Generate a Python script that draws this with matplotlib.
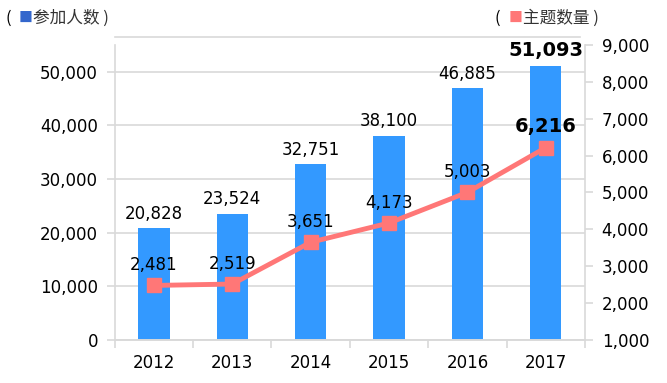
import numpy as np
import matplotlib.pyplot as plt
from matplotlib.lines import Line2D

plt.rcParams['font.family'] = ['DejaVu Sans', 'Noto Sans CJK SC']

years = ['2012', '2013', '2014', '2015', '2016', '2017']
participants = [20828, 23524, 32751, 38100, 46885, 51093]
topics = [2481, 2519, 3651, 4173, 5003, 6216]

bar_color = '#3399FF'
line_color = '#FF7777'
grid_color = '#D9D9D9'

fig = plt.figure(figsize=(6.67, 3.83), dpi=100)
ax = fig.add_axes([0.172, 0.112, 0.705, 0.771])
ax2 = ax.twinx()

x = np.arange(len(years))
ax.bar(x, participants, width=0.4, color=bar_color, zorder=2)
ax.set_xlim(-0.5, len(years) - 0.5)
ax.set_ylim(0, 55000)
ax.set_yticks(np.arange(0, 50001, 10000))
ax.set_yticklabels([f'{v:,}' for v in range(0, 50001, 10000)])
ax.yaxis.grid(True, color=grid_color, lw=1.2, zorder=0)
ax.set_axisbelow(True)
ax.set_xticks(x)
ax.set_xticklabels(years)
ax.set_xticks(np.arange(-0.5, len(years)), minor=True)
ax.tick_params(axis='x', which='major', length=0, pad=10, labelsize=12)
ax.tick_params(axis='x', which='minor', length=6, color=grid_color, width=1.2)
ax.tick_params(axis='y', length=6, color=grid_color, width=1.2, labelsize=12, pad=6)

ax2.plot(x, topics, color=line_color, lw=3.5, marker='s', markersize=10, zorder=3)
ax2.set_ylim(1000, 9000)
ax2.set_yticks(np.arange(1000, 9001, 1000))
ax2.set_yticklabels([f'{v:,}' for v in range(1000, 9001, 1000)])
ax2.tick_params(axis='y', length=6, color=grid_color, width=1.2, labelsize=12, pad=6)

for a in (ax, ax2):
    for side in ('top', 'right'):
        a.spines[side].set_visible(False)
    a.spines['left'].set_visible(False)
    a.spines['bottom'].set_color(grid_color)
    a.spines['bottom'].set_linewidth(1.2)
ax2.spines['right'].set_visible(True)
ax2.spines['right'].set_color(grid_color)
ax2.spines['right'].set_linewidth(1.2)
ax.spines['left'].set_visible(True)
ax.spines['left'].set_color(grid_color)
ax.spines['left'].set_linewidth(1.2)

# value labels
for i, v in enumerate(participants):
    last = i == len(years) - 1
    ax.annotate(f'{v:,}', (x[i], v), xytext=(0, 4), textcoords='offset points',
                ha='center', va='bottom', fontsize=14 if last else 12,
                fontweight='bold' if last else 'normal', zorder=4)
for i, v in enumerate(topics):
    last = i == len(years) - 1
    ax2.annotate(f'{v:,}', (x[i], v), xytext=(0, 8), textcoords='offset points',
                 ha='center', va='bottom', fontsize=14 if last else 12,
                 fontweight='bold' if last else 'normal', zorder=4)

# legend-like headers
cjk = ['Noto Sans CJK SC', 'DejaVu Sans']
fig.text(0.008, 0.952, '(', fontsize=12, family=cjk, va='center')
fig.text(0.028, 0.952, '■', fontsize=10, family=cjk, va='center', color='#3366CC')
fig.text(0.050, 0.952, '参加人数 )', fontsize=12, family=cjk, va='center', color='#333333')
fig.text(0.742, 0.952, '(', fontsize=12, family=cjk, va='center')
fig.text(0.762, 0.952, '■', fontsize=10, family=cjk, va='center', color=line_color)
fig.text(0.784, 0.952, '主题数量 )', fontsize=12, family=cjk, va='center', color='#333333')

fig.add_artist(Line2D([0.172, 0.87], [0.903, 0.903], color=grid_color, lw=1.2,
                      transform=fig.transFigure))

fig.savefig('out.png', dpi=100)
